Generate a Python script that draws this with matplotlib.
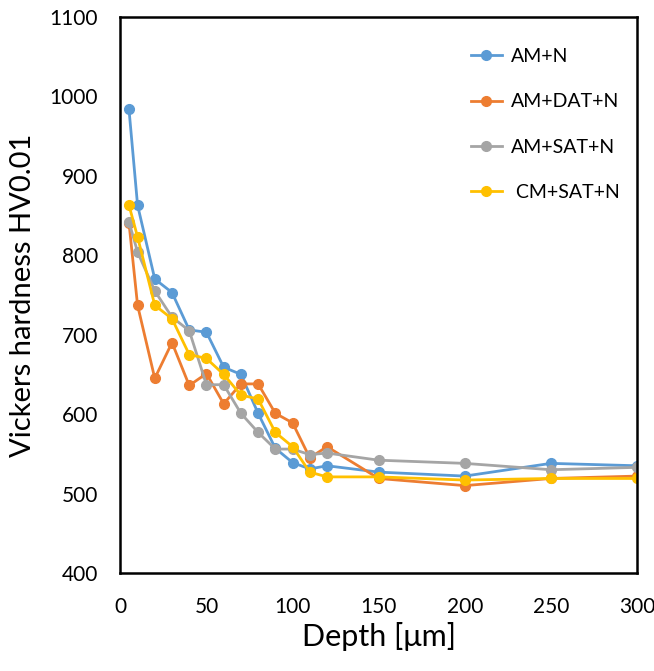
import matplotlib
matplotlib.use("Agg")
import matplotlib.pyplot as plt

plt.rcParams['font.family'] = ['Lato', 'DejaVu Sans']

# Data
depth = [5, 10, 20, 30, 40, 50, 60, 70, 80, 90, 100, 110, 120, 150, 200, 250, 300]
am_n = [984, 863, 770, 753, 706, 703, 659, 650, 601, 557, 539, 531, 535, 527, 522, 538, 535]
am_dat_n = [841, 737, 645, 690, 636, 651, 613, 638, 638, 601, 589, 545, 559, 519, 510, 519, 522]
am_sat_n = [842, 804, 755, 722, 705, 637, 637, 601, 577, 556, 556, 549, 551, 542, 538, 530, 533]
cm_sat_n = [863, 823, 737, 720, 675, 670, 650, 624, 619, 577, 559, 527, 521, 521, 517, 519, 519]

series = [
    ("AM+N", am_n, "#5B9BD5"),
    ("AM+DAT+N", am_dat_n, "#ED7D31"),
    ("AM+SAT+N", am_sat_n, "#A5A5A5"),
    (" CM+SAT+N", cm_sat_n, "#FFC000"),
]

fig = plt.figure(figsize=(6.54, 6.71), dpi=100)
ax = fig.add_axes([0.184, 0.146, 0.79, 0.829])

for label, vals, color in series:
    ax.plot(depth, vals, color=color, lw=2, marker='o', ms=7, label=label)

ax.set_xlim(0, 300)
ax.set_ylim(400, 1100)
ax.set_xticks(range(0, 301, 50))
ax.set_yticks(range(400, 1101, 100))
ax.tick_params(length=0, labelsize=15)
ax.tick_params(axis='x', pad=17)
ax.tick_params(axis='y', pad=16)
for s in ax.spines.values():
    s.set_linewidth(1.8)
    s.set_color('black')

ax.set_xlabel("Depth [μm]", fontsize=22, labelpad=4)
ax.set_ylabel("Vickers hardness HV0.01", fontsize=21, labelpad=10)

ax.legend(loc='upper right', frameon=False, fontsize=14, labelspacing=1.45,
          handlelength=1.6, handletextpad=0.45, bbox_to_anchor=(1.0, 0.975))

fig.savefig("out.png", dpi=100)
